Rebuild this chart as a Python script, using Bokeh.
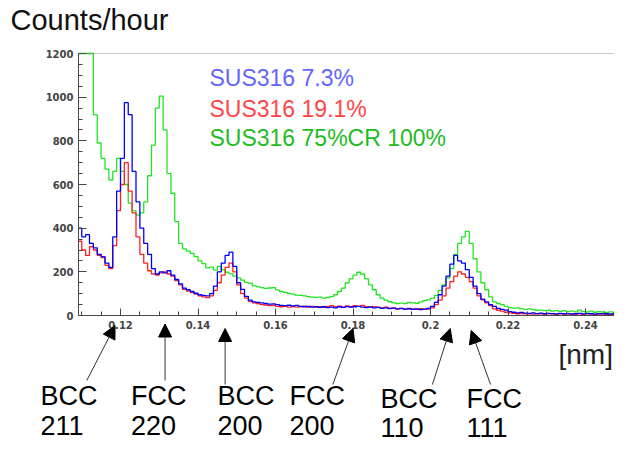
import numpy as np
from bokeh.plotting import figure
from bokeh.models import (Range1d, FixedTicker, CustomJSTickFormatter, Label, Arrow,
                          NormalHead, LinearAxis, BoxAnnotation)
from bokeh.embed import file_html
from bokeh.resources import INLINE

# ---------------- data (histogram, 1 bin = 0.001 nm, first bin starts at 0.109 nm) ----------------
bin_lo = 0.109
bin_width = 0.001

green_75cr = [
    1200, 1200, 1200, 1200, 920, 790, 720, 670, 620, 660,
    720, 660, 600, 515, 480, 460, 470, 520, 640, 780,
    950, 1005, 850, 650, 560, 430, 330, 305, 295, 285,
    270, 250, 238, 218, 222, 208, 225, 210, 198, 192,
    180, 172, 162, 152, 148, 136, 132, 128, 124, 126,
    128, 117, 110, 106, 101, 98, 93, 92, 90, 86,
    84, 83, 84, 80, 82, 86, 95, 110, 125, 150,
    168, 185, 198, 190, 168, 140, 118, 95, 80, 70,
    63, 58, 55, 57, 55, 60, 58, 56, 62, 68,
    72, 78, 92, 115, 140, 172, 215, 280, 330, 360,
    385, 330, 260, 200, 150, 118, 85, 62, 55, 50,
    42, 36, 34, 35, 30, 28, 30, 27, 24, 25,
    22, 24, 20, 22, 19, 22, 18, 20, 17, 25,
    18, 16, 20, 15, 18, 16, 14, 17, 15, 14,
    16, 14,
]

blue_7_3 = [
    400, 360, 370, 330, 310, 280, 270, 240, 220, 360,
    570, 720, 975, 920, 660, 520, 400, 330, 280, 215,
    190, 200, 195, 205, 185, 165, 145, 125, 118, 110,
    102, 95, 92, 90, 100, 135, 200, 240, 275, 290,
    225, 150, 120, 88, 70, 62, 60, 58, 55, 52,
    53, 50, 46, 45, 47, 44, 46, 42, 40, 42,
    38, 40, 37, 40, 36, 38, 35, 40, 37, 41,
    38, 40, 42, 38, 36, 39, 35, 37, 33, 35,
    32, 34, 30, 32, 29, 31, 28, 30, 27, 29,
    32, 42, 60, 95, 135, 180, 235, 275, 250, 240,
    210, 175, 135, 100, 75, 62, 50, 42, 33, 28,
    25, 18, 15, 12, 14, 11, 10, 12, 9, 11,
    8, 10, 9, 7, 10, 8, 9, 7, 8, 10,
    7, 9, 8, 6, 9, 7, 8, 6, 8, 7,
    9, 7,
]

red_19_1 = [
    340, 300, 275, 315, 300, 275, 265, 230, 215, 320,
    480, 600, 700, 570, 470, 360, 280, 240, 205, 190,
    185, 195, 200, 190, 180, 160, 140, 120, 112, 105,
    98, 90, 85, 82, 90, 115, 150, 185, 220, 240,
    200, 140, 100, 80, 65, 58, 54, 50, 48, 45,
    47, 42, 40, 42, 38, 41, 38, 40, 43, 39,
    42, 38, 40, 37, 42, 45, 40, 43, 38, 44,
    40, 45, 42, 46, 40, 38, 41, 37, 35, 38,
    33, 35, 31, 33, 29, 32, 30, 28, 31, 29,
    30, 35, 50, 70, 90, 125, 155, 180, 200, 190,
    175, 155, 125, 90, 72, 58, 45, 30, 24, 20,
    15, 12, 10, 8, 9, 7, 8, 6, 8, 7,
    6, 8, 7, 5, 7, 6, 8, 5, 6, 7,
    5, 7, 6, 5, 6, 8, 5, 6, 5, 7,
    6, 5,
]

series_names = ["SUS316 7.3%", "SUS316 19.1%", "SUS316 75%CR 100%"]

x_ticks = [0.12, 0.14, 0.16, 0.18, 0.20, 0.22, 0.24]
y_ticks = [0, 200, 400, 600, 800, 1000, 1200]

peak_line1 = ["BCC", "FCC", "BCC", "FCC", "BCC", "FCC"]
peak_line2 = ["211", "220", "200", "200", "110", "111"]
peak_tip_x = [0.1186, 0.1315, 0.1470, 0.1800, 0.2051, 0.2105]
peak_tail_x = [0.1113, 0.1315, 0.1470, 0.1748, 0.2005, 0.2155]

# ---------------- geometry ----------------
W, H = 614, 445
SX = 3875.0                  # px per nm
X0_PX, X0 = 120.0, 0.12      # pixel column of x = 0.12
Y_TOP_PX, Y_BOT_PX = 53.0, 315.0
Y_MAX = 1200.0
PX_Y = Y_MAX / (Y_BOT_PX - Y_TOP_PX)   # data units per px


def xd(px):
    return X0 + (px - X0_PX) / SX


def yd(py):
    return (Y_BOT_PX - py) * PX_Y


def text_y(baseline_py, fs):
    # labels render ~0.4 em below the requested baseline; compensate
    return yd(baseline_py - 0.4 * fs)


X_MIN = xd(78)
X_MAX = xd(W)

p = figure(width=W, height=H, output_backend="svg", toolbar_location=None,
           x_range=Range1d(xd(0), xd(W)), y_range=Range1d(yd(H), yd(0)),
           x_axis_location=None, y_axis_location=None,
           min_border_left=0, min_border_right=0, min_border_top=0, min_border_bottom=0)
p.grid.visible = False
p.background_fill_color = "white"
p.border_fill_color = "white"
p.outline_line_color = None

# plot box
p.add_layout(BoxAnnotation(left=X_MIN, right=X_MAX, bottom=0, top=Y_MAX,
                           fill_color=None, line_color="#555555", line_width=1))

n = len(blue_7_3)
edges = np.clip(np.round(bin_lo + bin_width * np.arange(n + 1), 4), X_MIN, X_MAX)


def ext(v):
    return list(v) + [v[-1]]


p.step(edges, ext(green_75cr), mode="after", line_color="#22e622", line_width=1.3)
p.step(edges, ext(red_19_1), mode="after", line_color="#ff2020", line_width=1.3)
p.step(edges, ext(blue_7_3), mode="after", line_color="#0000ff", line_width=1.3)

# axes at fixed locations (library axes)
x_minor = list(np.round(np.arange(0.110, 0.2501, 0.005), 3))
y_minor = list(range(0, 1201, 50))
xax = LinearAxis(fixed_location=0, bounds=(X_MIN, X_MAX),
                 ticker=FixedTicker(ticks=x_ticks, minor_ticks=x_minor),
                 formatter=CustomJSTickFormatter(code="return String(Math.round(tick*1000)/1000);"))
yax = LinearAxis(fixed_location=X_MIN, bounds=(0, Y_MAX),
                 ticker=FixedTicker(ticks=y_ticks, minor_ticks=y_minor))
for ax in (xax, yax):
    ax.axis_line_color = "#444444"
    ax.major_tick_line_color = "#444444"
    ax.minor_tick_line_color = "#444444"
    ax.major_tick_out = 0
    ax.minor_tick_out = 0
    ax.major_label_text_font = "DejaVu Sans"
    ax.major_label_text_font_size = "10px"
    ax.major_label_text_font_style = "bold"
    ax.major_label_text_color = "#444444"
    ax.major_label_standoff = 5
xax.major_tick_in = 7
xax.minor_tick_in = 4
yax.major_tick_in = 8
yax.minor_tick_in = 4
p.add_layout(xax, "below")
p.add_layout(yax, "left")

# legend texts
legend_colors = ["#6464ff", "#ff4646", "#22bb22"]
legend_base_py = [86.7, 117.7, 146.7]
for name, col, py in zip(series_names, legend_colors, legend_base_py):
    p.add_layout(Label(x=xd(209), y=text_y(py, 23), text=name,
                       text_font="Liberation Sans", text_font_size="23px",
                       text_color=col, text_baseline="alphabetic"))

# y title
p.add_layout(Label(x=xd(10), y=text_y(31, 29), text="Counts/hour",
                   text_font="Liberation Sans", text_font_size="29px",
                   text_color="#111111", text_baseline="alphabetic"))
# x unit
p.add_layout(Label(x=xd(558), y=text_y(365, 28), text="[nm]",
                   text_font="Liberation Sans", text_font_size="28px",
                   text_color="#222222", text_baseline="alphabetic"))

# peak arrows and labels
tip_py = [325, 323.5, 328, 328, 328, 330]
tail_py = [380, 380, 384, 384, 384, 384]
label_left_px = [40, 130.5, 217, 289, 380, 466]
line1_py = [406, 406, 406, 406, 409, 409]
line2_py = [436, 436, 436, 436, 438, 438]
FS = 27
for i in range(len(peak_line1)):
    p.add_layout(Arrow(end=NormalHead(size=13, fill_color="black", line_color="black", line_width=1),
                       x_start=peak_tail_x[i], y_start=yd(tail_py[i]),
                       x_end=peak_tip_x[i], y_end=yd(tip_py[i]),
                       line_color="#333333", line_width=1))
    lx = xd(label_left_px[i])
    p.add_layout(Label(x=lx, y=text_y(line1_py[i], FS), text=peak_line1[i],
                       text_font="Liberation Sans", text_font_size=f"{FS}px",
                       text_color="black", text_baseline="alphabetic"))
    p.add_layout(Label(x=lx, y=text_y(line2_py[i], FS), text=peak_line2[i],
                       text_font="Liberation Sans", text_font_size=f"{FS}px",
                       text_color="black", text_baseline="alphabetic"))

open("out.html", "w").write(file_html(p, INLINE))
